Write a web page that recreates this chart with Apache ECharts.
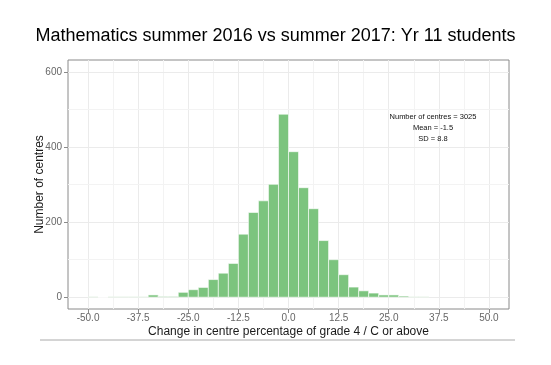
<!DOCTYPE html>
<html>
<head>
<meta charset="utf-8">
<script src="https://cdn.jsdelivr.net/npm/echarts@6/dist/echarts.min.js"></script>
<style>html,body{margin:0;padding:0;background:#fff;}#c{width:551px;height:365px;}</style>
</head>
<body>
<div id="c"></div>
<script>
// ---- data ----
const titleText = 'Mathematics summer 2016 vs summer 2017: Yr 11 students';
const xTitle = 'Change in centre percentage of grade 4 / C or above';
const yTitle = 'Number of centres';
const binLeft = [-50,-47.5,-45,-42.5,-40,-37.5,-35,-32.5,-30,-27.5,-25,-22.5,-20,-17.5,-15,-12.5,-10,-7.5,-5,-2.5,0,2.5,5,7.5,10,12.5,15,17.5,20,22.5,25,27.5,30,32.5];
const binWidth = 2.5;
const counts = [1,0,1,1,1,1,6,2,2,13,20,26,47,64,90,168,226,257,301,488,388,292,236,151,100,60,27,17,11,6,6,3,1,1];
const xTicks = [-50,-37.5,-25,-12.5,0,12.5,25,37.5,50];
const xMinorGrid = [-43.75,-31.25,-18.75,-6.25,6.25,18.75,31.25,43.75];
const yTicks = [0,200,400,600];
const yMinorGrid = [100,300,500];
const annotationLines = ['Number of centres = 3025','Mean = -1.5','SD = 8.8'];

const FONT = '"Liberation Sans", Arial, sans-serif';
const barData = binLeft.map((l,i)=>[l, l+binWidth, counts[i]]);

const chart = echarts.init(document.getElementById('c'), null, {renderer:'canvas'});
const gridLines = [];
const major = {color:'#ebebeb', width:1, type:'solid'};
const minor = {color:'#f3f3f3', width:1, type:'solid'};
xTicks.forEach(v=>gridLines.push({xAxis:v, lineStyle:major}));
xMinorGrid.forEach(v=>gridLines.push({xAxis:v, lineStyle:minor}));
yTicks.forEach(v=>gridLines.push({yAxis:v, lineStyle:major}));
yMinorGrid.forEach(v=>gridLines.push({yAxis:v, lineStyle:minor}));

chart.setOption({
  animation:false,
  backgroundColor:'#fff',
  title:{text:titleText, left:'center', top:22, textStyle:{fontFamily:FONT, fontSize:18, fontWeight:'normal', color:'#000'}},
  grid:{left:68, right:42, top:60, bottom:56, show:true, borderColor:'#8a8a8a', borderWidth:1, backgroundColor:'transparent'},
  xAxis:{type:'value', min:-55, max:55,
    name:xTitle, nameLocation:'middle', nameGap:17, nameMoveOverlap:false,
    nameTextStyle:{fontFamily:FONT, fontSize:12, color:'#1a1a1a'},
    axisLine:{show:false, onZero:false},
    axisTick:{show:true, customValues:xTicks, length:4, lineStyle:{color:'#8a8a8a'}},
    axisLabel:{customValues:xTicks, margin:4, fontFamily:FONT, fontSize:10, color:'#666', formatter:v=>v.toFixed(1)},
    splitLine:{show:false}},
  yAxis:{type:'value', min:-31.5, max:632.5,
    name:yTitle, nameLocation:'middle', nameGap:22, nameRotate:90, nameMoveOverlap:false,
    nameTextStyle:{fontFamily:FONT, fontSize:12, color:'#1a1a1a'},
    axisLine:{show:false, onZero:false},
    axisTick:{show:true, customValues:yTicks, length:4, lineStyle:{color:'#8a8a8a'}},
    axisLabel:{customValues:yTicks, margin:6, fontFamily:FONT, fontSize:10, color:'#666'},
    splitLine:{show:false}},
  graphic:[
    {type:'text', style:{text:annotationLines.join('\n'), x:433, y:111, textAlign:'center', textVerticalAlign:'top', fontFamily:FONT, fontSize:7.5, lineHeight:11.3, fill:'#111'}, z:10},
    {type:'line', shape:{x1:40, y1:340, x2:515, y2:340}, style:{stroke:'#aaa', lineWidth:1}, z:10}
  ],
  series:[
    {type:'line', data:[], silent:true, z:1,
     markLine:{silent:true, z:1, symbol:['none','none'], label:{show:false}, animation:false, data:gridLines}},
    {type:'custom', z:3, data:barData,
     renderItem:function(params, api){
       const p0 = api.coord([api.value(0), api.value(2)]);
       const p1 = api.coord([api.value(1), 0]);
       return {type:'rect', shape:{x:p0[0], y:p0[1], width:p1[0]-p0[0], height:p1[1]-p0[1]},
               style:{fill:'#7cc47e', stroke:'#ffffff', lineWidth:0.6}};
     }}
  ]
});
</script>
</body>
</html>
